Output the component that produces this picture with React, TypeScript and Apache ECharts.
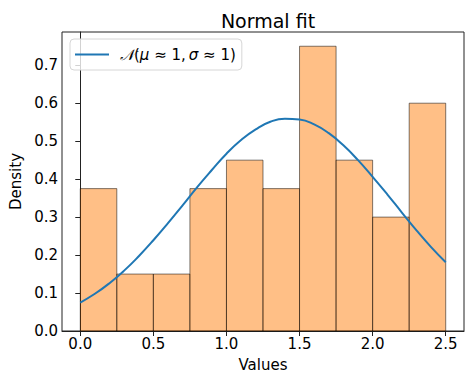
import React, { useEffect, useRef } from "react";
import * as echarts from "echarts";

const binEdges = [0, 0.25, 0.5, 0.75, 1.0, 1.25, 1.5, 1.75, 2.0, 2.25, 2.5];
const densities = [0.375, 0.15, 0.15, 0.375, 0.45, 0.375, 0.75, 0.45, 0.3, 0.6];

const curveX = [0, 0.1, 0.2, 0.3, 0.4, 0.5, 0.6, 0.7, 0.8, 0.9, 1.0, 1.1, 1.2, 1.3, 1.4, 1.5, 1.6, 1.7, 1.8, 1.9, 2.0, 2.1, 2.2, 2.3, 2.4, 2.5];
const curveY = [0.075, 0.098, 0.126, 0.159, 0.197, 0.239, 0.284, 0.331, 0.379, 0.424, 0.467, 0.503, 0.531, 0.551, 0.559, 0.557, 0.544, 0.521, 0.489, 0.45, 0.406, 0.36, 0.312, 0.265, 0.221, 0.181];

const xTicks = [0, 0.5, 1.0, 1.5, 2.0, 2.5];
const yTicks = [0, 0.1, 0.2, 0.3, 0.4, 0.5, 0.6, 0.7];

const titleText = "Normal fit";
const xName = "Values";
const yName = "Density";
const seriesName = "fit";

const FONT = "DejaVu Sans";

export default function App() {
  const ref = useRef<HTMLDivElement>(null);
  useEffect(() => {
    if (!ref.current) return;
    const chart = echarts.init(ref.current, undefined, { renderer: "svg" });
    const barData = densities.map((d, i) => [binEdges[i], binEdges[i + 1], d]);
    const lineData = curveX.map((x, i) => [x, curveY[i]]);
    chart.setOption({
      animation: false,
      backgroundColor: "#fff",
      textStyle: { fontFamily: FONT },
      title: {
        text: titleText,
        left: 263,
        textAlign: "center",
        top: 6,
        textStyle: { fontFamily: FONT, fontSize: 19, fontWeight: "normal", color: "#000" },
      },
      legend: {
        left: 70,
        top: 39,
        padding: [6, 6, 6, 5],
        itemWidth: 34,
        itemHeight: 2,
        borderColor: "#d6d6d6",
        borderWidth: 1,
        borderRadius: 4,
        backgroundColor: "rgba(255,255,255,0.8)",
        data: [{ name: seriesName, icon: "rect" }],
        formatter: () => "{n|𝒩}({i|μ} ≈ 1,\u2009{i|σ} ≈ 1)",
        textStyle: {
          fontFamily: FONT,
          fontSize: 15,
          lineHeight: 19,
          color: "#000",
          padding: [0, 0, 0, 6],
          rich: {
            n: { fontFamily: FONT, fontSize: 15, fontStyle: "italic", color: "#000" },
            i: { fontFamily: FONT, fontSize: 15, fontStyle: "italic", color: "#000" },
          },
        },
      },
      grid: {
        left: 62,
        right: 9,
        top: 32,
        bottom: 49,
        show: true,
        borderColor: "#222",
        borderWidth: 1,
        backgroundColor: "transparent",
      },
      xAxis: {
        type: "value",
        min: -0.125,
        max: 2.625,
        name: xName,
        nameLocation: "middle",
        nameGap: 26,
        nameTextStyle: { fontFamily: FONT, fontSize: 15, color: "#000" },
        axisLine: { show: true, lineStyle: { color: "#222", width: 1 } },
        axisTick: { show: true, length: 5, customValues: xTicks, lineStyle: { color: "#222" } },
        axisLabel: {
          customValues: xTicks,
          fontFamily: FONT,
          fontSize: 15,
          color: "#000",
          margin: 5,
          formatter: (v: number) => v.toFixed(1),
        },
        splitLine: { show: false },
      },
      yAxis: {
        type: "value",
        min: 0,
        max: 0.7875,
        name: yName,
        nameLocation: "middle",
        nameGap: 37,
        nameTextStyle: { fontFamily: FONT, fontSize: 15, color: "#000" },
        axisLine: { show: true, lineStyle: { color: "#222", width: 1 } },
        axisTick: { show: true, length: 5, customValues: yTicks, lineStyle: { color: "#222" } },
        axisLabel: {
          customValues: yTicks,
          fontFamily: FONT,
          fontSize: 15,
          color: "#000",
          margin: 4,
          formatter: (v: number) => v.toFixed(1),
        },
        splitLine: { show: false },
      },
      series: [
        {
          type: "custom",
          name: "hist",
          z: 1,
          data: barData,
          encode: { x: [0, 1], y: 2 },
          renderItem: (params: any, api: any) => {
            const p0 = api.coord([api.value(0), api.value(2)]);
            const p1 = api.coord([api.value(1), 0]);
            return {
              type: "rect",
              shape: { x: p0[0], y: p0[1], width: p1[0] - p0[0], height: p1[1] - p0[1] },
              style: { fill: "rgba(255,127,14,0.5)", stroke: "rgba(0,0,0,0.5)", lineWidth: 1 },
            };
          },
        },
        {
          type: "line",
          name: seriesName,
          z: 3,
          data: lineData,
          smooth: true,
          symbol: "none",
          lineStyle: { color: "#1f77b4", width: 2 },
          itemStyle: { color: "#1f77b4" },
        },
      ],
    });
    return () => chart.dispose();
  }, []);
  return <div ref={ref} style={{ width: 473, height: 380, position: "absolute", left: 0, top: 0 }} />;
}
